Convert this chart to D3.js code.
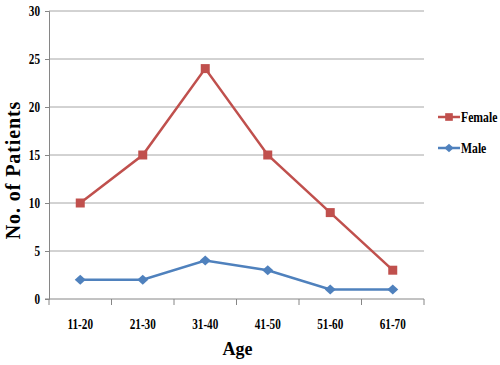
<!DOCTYPE html>
<html>
<head>
<meta charset="utf-8">
<script src="https://cdn.jsdelivr.net/npm/d3@7"></script>
<style>
  body { margin: 0; background: #fff; }
  svg text { font-family: "Liberation Serif", "DejaVu Serif", serif !important; font-weight: bold; fill: #000; }
</style>
</head>
<body>
<div id="chart"></div>
<script>
// ─── Data ───
const ageGroups = ["11-20", "21-30", "31-40", "41-50", "51-60", "61-70"];
const femaleCounts = [10, 15, 24, 15, 9, 3];
const maleCounts = [2, 2, 4, 3, 1, 1];
const yTicks = [0, 5, 10, 15, 20, 25, 30];

// square and a rhombus slightly wider than tall, like the reference markers
const squareMarker = "M-4.5,-4.5H4.5V4.5H-4.5Z";
const diamondMarker = "M-5.5,0L0,-5L5.5,0L0,5Z";

const series = [
  { name: "Female", values: femaleCounts, color: "#C0504D", marker: squareMarker },
  { name: "Male", values: maleCounts, color: "#4F81BD", marker: diamondMarker }
];

const width = 500, height = 365;
const margin = { top: 11, right: 76, bottom: 66, left: 49 };
const innerW = width - margin.left - margin.right;
const innerH = height - margin.top - margin.bottom;

const svg = d3.select("#chart").append("svg")
  .attr("width", width).attr("height", height);

const g = svg.append("g").attr("transform", `translate(${margin.left},${margin.top})`);

const x = d3.scaleBand().domain(ageGroups).range([0, innerW]);
const y = d3.scaleLinear().domain([0, 30]).range([innerH, 0]);

// ─── Gridlines ───
g.selectAll(".grid").data(yTicks.filter(t => t > 0)).enter().append("line")
  .attr("x1", 0).attr("x2", innerW)
  .attr("y1", d => y(d)).attr("y2", d => y(d))
  .attr("stroke", "#a6a6a6").attr("stroke-width", 1);

// ─── Y axis ───
const yAxis = g.append("g")
  .call(d3.axisLeft(y).tickValues(yTicks).tickSize(4).tickPadding(5));
yAxis.select(".domain").attr("stroke", "#868686");
yAxis.selectAll(".tick line").attr("stroke", "#868686");
yAxis.selectAll("text")
  .style("font-size", "14px")
  .attr("transform", "scale(0.8,1)")
  .attr("x", -9 / 0.8);

// ─── X axis ───
const xAxis = g.append("g")
  .attr("transform", `translate(0,${innerH})`)
  .call(d3.axisBottom(x).tickSize(0).tickPadding(20));
xAxis.select(".domain").attr("stroke", "#868686").attr("d", `M-4,0H${innerW}`);
xAxis.selectAll(".tick text")
  .style("font-size", "14px")
  .attr("transform", "scale(0.8,1)");
// boundary tick marks between categories
const bounds = d3.range(ageGroups.length + 1).map(i => i * x.bandwidth());
g.selectAll(".xtick").data(bounds).enter().append("line")
  .attr("x1", d => d).attr("x2", d => d)
  .attr("y1", innerH).attr("y2", innerH + 6)
  .attr("stroke", "#868686");

// ─── Lines & markers ───
const line = d3.line()
  .x((d, i) => x(ageGroups[i]) + x.bandwidth() / 2)
  .y(d => y(d));

series.forEach(s => {
  g.append("path")
    .datum(s.values)
    .attr("fill", "none")
    .attr("stroke", s.color)
    .attr("stroke-width", 2.5)
    .attr("d", line);
  g.selectAll(null).data(s.values).enter().append("path")
    .attr("d", s.marker)
    .attr("transform", (d, i) => `translate(${x(ageGroups[i]) + x.bandwidth() / 2},${y(d)})`)
    .attr("fill", s.color);
});

// ─── Axis titles ───
svg.append("text")
  .attr("x", margin.left + innerW / 2 + 1).attr("y", 355)
  .attr("text-anchor", "middle")
  .style("font-size", "18px")
  .text("Age");

svg.append("text")
  .attr("transform", "translate(20,170) rotate(-90)")
  .attr("text-anchor", "middle")
  .style("font-size", "20px")
  .attr("letter-spacing", 0.9)
  .text("No. of Patients");

// ─── Legend ───
const legend = svg.append("g").attr("transform", "translate(438,0)");
const legendY = [117, 148];
series.forEach((s, i) => {
  const lg = legend.append("g").attr("transform", `translate(0,${legendY[i]})`);
  lg.append("line").attr("x1", 0).attr("x2", 22).attr("y1", 0).attr("y2", 0)
    .attr("stroke", s.color).attr("stroke-width", 2.5);
  lg.append("path")
    .attr("d", s.marker)
    .attr("transform", "translate(11,0) scale(0.85)")
    .attr("fill", s.color);
  lg.append("text")
    .attr("transform", "translate(23,5) scale(0.78,1)")
    .style("font-size", "15px")
    .text(s.name);
});
</script>
</body>
</html>
